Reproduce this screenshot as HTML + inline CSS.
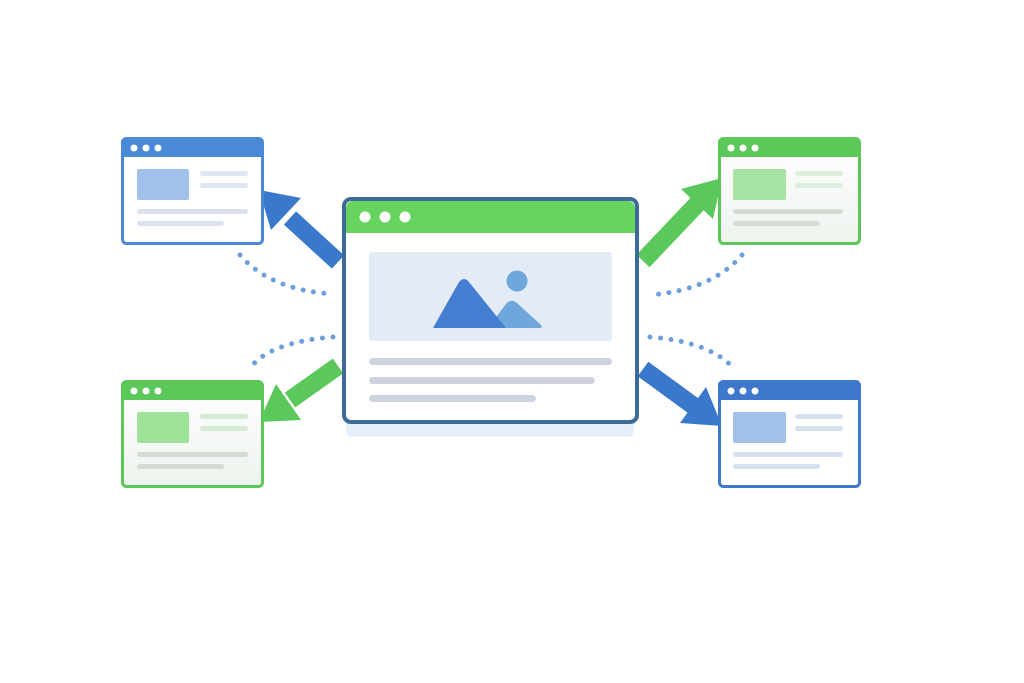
<!DOCTYPE html>
<html><head><meta charset="utf-8"><style>
html,body{margin:0;padding:0;background:#fff;}
svg{display:block}
</style></head><body>
<svg width="1024" height="683" viewBox="0 0 1024 683" xmlns="http://www.w3.org/2000/svg">
<rect width="1024" height="683" fill="#fff"/>
<defs>
<linearGradient id="gg" x1="0" y1="0" x2="0" y2="1"><stop offset="0" stop-color="#fff"/><stop offset="1" stop-color="#eef3ee"/></linearGradient>
</defs>
<g fill="none" stroke="#6c9fdc" stroke-width="5" stroke-linecap="round" stroke-dasharray="0 10.5">
<path d="M240 255 Q270 290 333 294"/>
<path d="M742 255 Q712 290 650 295"/>
<path d="M333 337 Q270 342 250 368"/>
<path d="M650 337 Q712 342 735 370"/>
</g>
<g stroke-linecap="butt">
<line x1="338" y1="262" x2="290" y2="218" stroke="#3a78cc" stroke-width="18"/>
<polygon points="259,190 301,198 271,230" fill="#3a78cc"/>
<line x1="643" y1="261" x2="699" y2="202" stroke="#5ac85a" stroke-width="18"/>
<polygon points="722,178 713,219 681,189" fill="#5ac85a"/>
<line x1="643" y1="369" x2="695" y2="407" stroke="#3a78cc" stroke-width="18"/>
<polygon points="722,426 680,423 706,387" fill="#3a78cc"/>
<line x1="338" y1="366" x2="290" y2="400" stroke="#5ac85a" stroke-width="18"/>
<polygon points="259,422 301,420 276,384" fill="#5ac85a"/>
</g>
<rect x="346" y="415" width="288" height="22" rx="5" fill="#e6eef8"/>
<rect x="344" y="199" width="293" height="223" rx="7" fill="#fff" stroke="#3c6b98" stroke-width="4"/>
<path d="M346 208 a7 7 0 0 1 7 -7 h275 a7 7 0 0 1 7 7 v25 h-289z" fill="#68d460"/>
<circle cx="365" cy="217" r="5.5" fill="#fff"/><circle cx="385" cy="217" r="5.5" fill="#fff"/><circle cx="405" cy="217" r="5.5" fill="#fff"/>
<rect x="369" y="252" width="243" height="89" rx="3" fill="#e3ecf6"/>
<circle cx="517" cy="281" r="10.5" fill="#6fa6dc"/>
<path d="M488 328 L506 304 Q511 298 517 303 L541 325 Q543 328 539 328 Z" fill="#6fa6dc"/>
<path d="M433 328 L459 282 Q464 276 469 282 L506 328 Z" fill="#447ed0"/>
<rect x="369" y="358" width="243" height="7" rx="3.5" fill="#cdd3df"/>
<rect x="369" y="377" width="226" height="7" rx="3.5" fill="#cdd3df"/>
<rect x="369" y="395" width="167" height="7" rx="3.5" fill="#cdd3df"/>
<g>
<rect x="122.5" y="138.5" width="140" height="105" rx="4" fill="#fff" stroke="#4a88d8" stroke-width="3"/>
<path d="M121 142 a4 4 0 0 1 4 -4 h134 a4 4 0 0 1 4 4 v15 h-142z" fill="#4a88d8"/>
<circle cx="134" cy="148" r="3.5" fill="#fff"/><circle cx="146" cy="148" r="3.5" fill="#fff"/><circle cx="158" cy="148" r="3.5" fill="#fff"/>
<rect x="137" y="169" width="52" height="31" rx="2" fill="#a0c2ea"/>
<rect x="200" y="171" width="48" height="5" rx="2.5" fill="#dde6f2"/>
<rect x="200" y="183" width="48" height="5" rx="2.5" fill="#dde6f2"/>
<rect x="137" y="209" width="111" height="5" rx="2.5" fill="#dbe2ee"/>
<rect x="137" y="221" width="87" height="5" rx="2.5" fill="#dbe2ee"/>
</g>
<g>
<rect x="719.5" y="138.5" width="140" height="105" rx="4" fill="url(#gg)" stroke="#5cc85a" stroke-width="3"/>
<path d="M718 142 a4 4 0 0 1 4 -4 h134 a4 4 0 0 1 4 4 v15 h-142z" fill="#5cc85a"/>
<circle cx="731" cy="148" r="3.5" fill="#fff"/><circle cx="743" cy="148" r="3.5" fill="#fff"/><circle cx="755" cy="148" r="3.5" fill="#fff"/>
<rect x="733" y="169" width="53" height="31" rx="2" fill="#a6e2a2"/>
<rect x="795" y="171" width="48" height="5" rx="2.5" fill="#dcefdc"/>
<rect x="795" y="183" width="48" height="5" rx="2.5" fill="#dcefdc"/>
<rect x="733" y="209" width="110" height="5" rx="2.5" fill="#d5dcd6"/>
<rect x="733" y="221" width="87" height="5" rx="2.5" fill="#d5dcd6"/>
</g>
<g>
<rect x="122.5" y="381.5" width="140" height="105" rx="4" fill="url(#gg)" stroke="#5cc85a" stroke-width="3"/>
<path d="M121 385 a4 4 0 0 1 4 -4 h134 a4 4 0 0 1 4 4 v15 h-142z" fill="#5cc85a"/>
<circle cx="134" cy="391" r="3.5" fill="#fff"/><circle cx="146" cy="391" r="3.5" fill="#fff"/><circle cx="158" cy="391" r="3.5" fill="#fff"/>
<rect x="137" y="412" width="52" height="31" rx="2" fill="#9ee29a"/>
<rect x="200" y="414" width="48" height="5" rx="2.5" fill="#d6ebd6"/>
<rect x="200" y="426" width="48" height="5" rx="2.5" fill="#d6ebd6"/>
<rect x="137" y="452" width="111" height="5" rx="2.5" fill="#d5dcd6"/>
<rect x="137" y="464" width="87" height="5" rx="2.5" fill="#d5dcd6"/>
</g>
<g>
<rect x="719.5" y="381.5" width="140" height="105" rx="4" fill="#fff" stroke="#3d78cc" stroke-width="3"/>
<path d="M718 385 a4 4 0 0 1 4 -4 h134 a4 4 0 0 1 4 4 v15 h-142z" fill="#3d78cc"/>
<circle cx="731" cy="391" r="3.5" fill="#fff"/><circle cx="743" cy="391" r="3.5" fill="#fff"/><circle cx="755" cy="391" r="3.5" fill="#fff"/>
<rect x="733" y="412" width="53" height="31" rx="2" fill="#a0c2ea"/>
<rect x="795" y="414" width="48" height="5" rx="2.5" fill="#d6e1f0"/>
<rect x="795" y="426" width="48" height="5" rx="2.5" fill="#d6e1f0"/>
<rect x="733" y="452" width="110" height="5" rx="2.5" fill="#d6e1f0"/>
<rect x="733" y="464" width="87" height="5" rx="2.5" fill="#d6e1f0"/>
</g>
</svg>
</body></html>
